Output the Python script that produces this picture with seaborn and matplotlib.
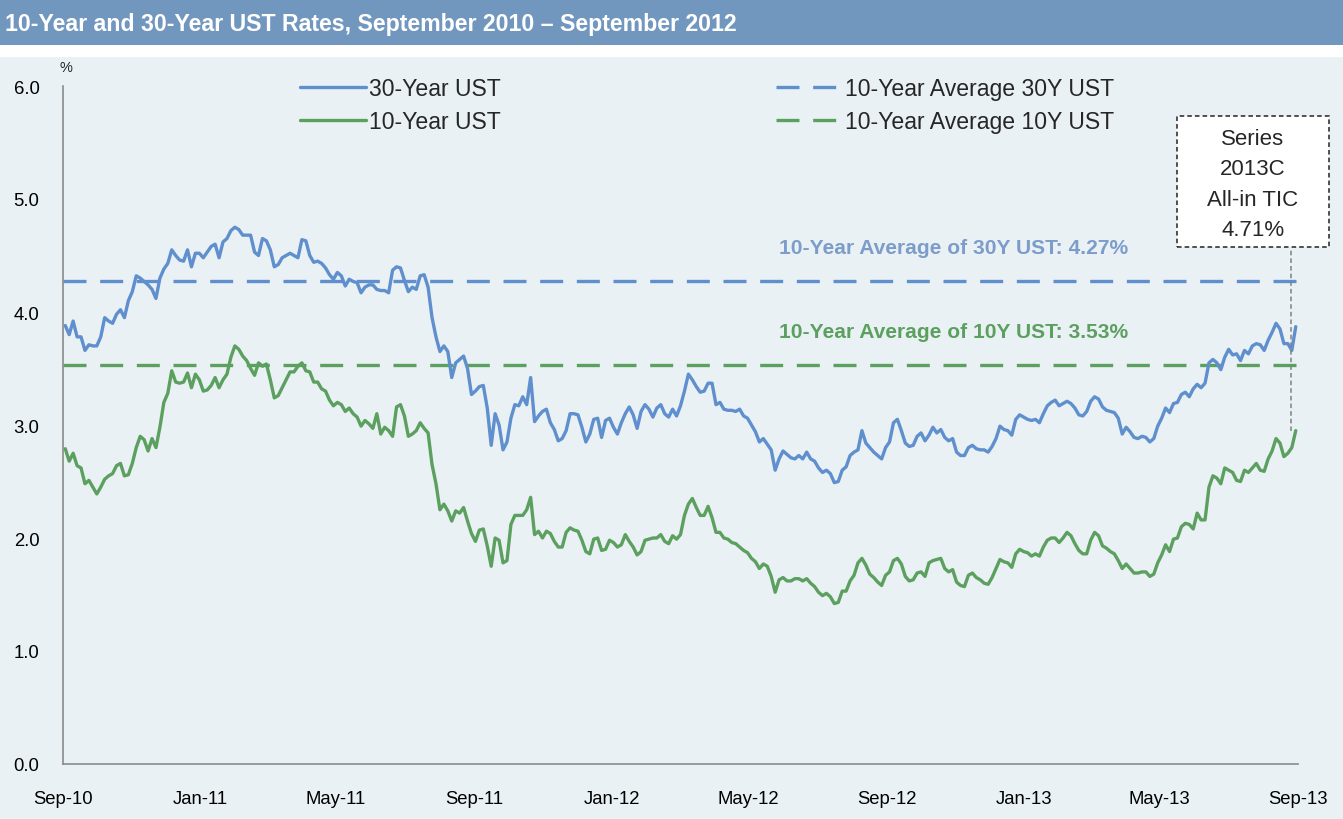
import numpy as np
import pandas as pd
import matplotlib
matplotlib.use("Agg")
import matplotlib.pyplot as plt
from matplotlib.lines import Line2D
from matplotlib.patches import Rectangle
import seaborn as sns

# ---------------- data ----------------
TITLE = "10-Year and 30-Year UST Rates, September 2010 \u2013 September 2012"
START_DATE = "2010-09-03"   # observations every 3.5 days
STEP = "84h"

UST_30Y = [3.88, 3.80, 3.92, 3.78, 3.78, 3.66, 3.71, 3.70, 3.70, 3.78,
           3.95, 3.92, 3.90, 3.98, 4.02, 3.95, 4.10, 4.18, 4.32, 4.30,
           4.27, 4.24, 4.20, 4.12, 4.30, 4.38, 4.43, 4.55, 4.50, 4.46,
           4.45, 4.55, 4.40, 4.52, 4.52, 4.48, 4.53, 4.58, 4.60, 4.48,
           4.62, 4.65, 4.72, 4.75, 4.73, 4.68, 4.68, 4.68, 4.53, 4.50,
           4.65, 4.63, 4.55, 4.40, 4.42, 4.48, 4.50, 4.52, 4.50, 4.48,
           4.64, 4.63, 4.50, 4.44, 4.45, 4.43, 4.39, 4.33, 4.29, 4.35,
           4.32, 4.23, 4.29, 4.27, 4.26, 4.17, 4.22, 4.24, 4.24, 4.20,
           4.19, 4.19, 4.17, 4.37, 4.40, 4.39, 4.28, 4.18, 4.22, 4.20,
           4.32, 4.33, 4.22, 3.95, 3.78, 3.65, 3.70, 3.65, 3.42, 3.55,
           3.58, 3.61, 3.50, 3.27, 3.30, 3.34, 3.35, 3.15, 2.82, 3.10,
           3.00, 2.78, 2.85, 3.06, 3.18, 3.17, 3.25, 3.18, 3.42, 3.03,
           3.08, 3.12, 3.14, 3.02, 2.96, 2.86, 2.88, 2.95, 3.10, 3.10,
           3.09, 2.98, 2.85, 2.92, 3.05, 3.06, 2.89, 3.04, 3.06, 2.98,
           2.92, 3.02, 3.10, 3.16, 3.09, 2.97, 3.12, 3.18, 3.14, 3.07,
           3.15, 3.18, 3.10, 3.07, 3.14, 3.08, 3.17, 3.30, 3.45, 3.40,
           3.34, 3.29, 3.30, 3.37, 3.37, 3.18, 3.20, 3.14, 3.13, 3.13,
           3.12, 3.14, 3.08, 3.06, 3.00, 2.94, 2.85, 2.88, 2.83, 2.78,
           2.60, 2.70, 2.77, 2.74, 2.71, 2.70, 2.73, 2.70, 2.76, 2.70,
           2.68, 2.62, 2.58, 2.60, 2.57, 2.49, 2.50, 2.60, 2.63, 2.73,
           2.76, 2.78, 2.95, 2.84, 2.80, 2.76, 2.73, 2.70, 2.80, 2.85,
           3.02, 3.05, 2.95, 2.84, 2.81, 2.82, 2.90, 2.93, 2.86, 2.91,
           2.98, 2.93, 2.96, 2.89, 2.86, 2.88, 2.76, 2.73, 2.73, 2.80,
           2.82, 2.79, 2.78, 2.78, 2.76, 2.81, 2.88, 2.99, 2.96, 2.95,
           2.91, 3.05, 3.09, 3.07, 3.05, 3.04, 3.05, 3.02, 3.10, 3.17,
           3.20, 3.22, 3.17, 3.19, 3.21, 3.19, 3.15, 3.09, 3.08, 3.12,
           3.21, 3.25, 3.23, 3.16, 3.13, 3.12, 3.11, 3.06, 2.92, 2.98,
           2.94, 2.89, 2.88, 2.90, 2.89, 2.85, 2.88, 2.99, 3.06, 3.15,
           3.11, 3.19, 3.20, 3.27, 3.29, 3.25, 3.32, 3.36, 3.33, 3.37,
           3.55, 3.58, 3.55, 3.49, 3.60, 3.67, 3.62, 3.63, 3.57, 3.66,
           3.63, 3.70, 3.72, 3.71, 3.66, 3.75, 3.82, 3.90, 3.85, 3.72,
           3.72, 3.66, 3.87]

UST_10Y = [2.79, 2.68, 2.75, 2.64, 2.62, 2.48, 2.51, 2.45, 2.39, 2.45,
           2.52, 2.55, 2.57, 2.64, 2.66, 2.55, 2.56, 2.66, 2.80, 2.90,
           2.87, 2.77, 2.88, 2.80, 2.98, 3.20, 3.28, 3.48, 3.38, 3.37,
           3.38, 3.46, 3.33, 3.45, 3.40, 3.30, 3.31, 3.35, 3.42, 3.33,
           3.40, 3.45, 3.60, 3.70, 3.67, 3.61, 3.57, 3.50, 3.44, 3.55,
           3.52, 3.54, 3.40, 3.24, 3.26, 3.33, 3.40, 3.47, 3.47, 3.52,
           3.55, 3.48, 3.47, 3.38, 3.38, 3.32, 3.30, 3.22, 3.17, 3.20,
           3.18, 3.12, 3.15, 3.10, 3.07, 2.99, 3.04, 3.01, 2.97, 3.10,
           2.92, 2.98, 2.95, 2.90, 3.16, 3.18, 3.08, 2.90, 2.92, 2.95,
           3.02, 2.97, 2.93, 2.65, 2.48, 2.25, 2.30, 2.24, 2.15, 2.24,
           2.22, 2.27, 2.15, 2.04, 1.97, 2.07, 2.08, 1.93, 1.75, 2.00,
           1.98, 1.78, 1.80, 2.12, 2.20, 2.20, 2.20, 2.25, 2.36, 2.03,
           2.06, 2.00, 2.06, 2.04, 1.97, 1.92, 1.92, 2.05, 2.09, 2.07,
           2.06, 1.98, 1.88, 1.86, 1.99, 2.00, 1.89, 1.90, 1.98, 1.96,
           1.92, 1.94, 2.03, 1.97, 1.92, 1.85, 1.88, 1.98, 1.99, 2.00,
           2.00, 2.03, 1.97, 1.95, 2.02, 1.99, 2.03, 2.20, 2.30, 2.35,
           2.27, 2.20, 2.20, 2.28, 2.18, 2.05, 2.05, 2.00, 1.99, 1.96,
           1.95, 1.92, 1.89, 1.87, 1.82, 1.79, 1.73, 1.77, 1.75, 1.66,
           1.52, 1.63, 1.65, 1.62, 1.62, 1.64, 1.64, 1.62, 1.64, 1.60,
           1.57, 1.52, 1.49, 1.51, 1.48, 1.42, 1.43, 1.53, 1.53, 1.62,
           1.67, 1.78, 1.82, 1.76, 1.68, 1.65, 1.61, 1.58, 1.67, 1.70,
           1.80, 1.82, 1.77, 1.66, 1.62, 1.63, 1.69, 1.70, 1.66, 1.78,
           1.80, 1.81, 1.82, 1.73, 1.70, 1.72, 1.61, 1.58, 1.57, 1.67,
           1.69, 1.65, 1.63, 1.60, 1.59, 1.65, 1.73, 1.81, 1.79, 1.78,
           1.74, 1.86, 1.90, 1.88, 1.87, 1.84, 1.86, 1.84, 1.92, 1.98,
           2.00, 2.00, 1.96, 2.00, 2.05, 2.02, 1.95, 1.89, 1.86, 1.86,
           1.98, 2.05, 2.02, 1.93, 1.91, 1.88, 1.86, 1.80, 1.73, 1.77,
           1.73, 1.69, 1.69, 1.70, 1.70, 1.66, 1.68, 1.78, 1.85, 1.94,
           1.88, 1.99, 2.00, 2.10, 2.13, 2.12, 2.08, 2.22, 2.16, 2.16,
           2.45, 2.55, 2.53, 2.48, 2.62, 2.60, 2.58, 2.51, 2.50, 2.60,
           2.58, 2.62, 2.66, 2.60, 2.59, 2.70, 2.77, 2.88, 2.84, 2.72,
           2.75, 2.80, 2.95]

AVG_30Y = 4.27
AVG_10Y = 3.53
TIC_DATE = "2013-08-26"
TIC_LINE_VALUE = 2.95
TIC_TEXT = "Series\n2013C\nAll-in TIC\n4.71%"

SERIES_NAMES = ["30-Year UST", "10-Year UST"]
AVG_NAMES = ["10-Year Average 30Y UST", "10-Year Average 10Y UST"]
AVG_LABELS = ["10-Year Average of 30Y UST: 4.27%", "10-Year Average of 10Y UST: 3.53%"]

X_TICK_DATES = ["2010-09-01", "2011-01-01", "2011-05-01", "2011-09-01", "2012-01-01",
                "2012-05-01", "2012-09-01", "2013-01-01", "2013-05-01", "2013-09-01"]
X_TICK_LABELS = ["Sep-10", "Jan-11", "May-11", "Sep-11", "Jan-12",
                 "May-12", "Sep-12", "Jan-13", "May-13", "Sep-13"]
Y_TICKS = [0, 1, 2, 3, 4, 5, 6]
Y_TICK_LABELS = ["0.0", "1.0", "2.0", "3.0", "4.0", "5.0", "6.0"]

# ---------------- style ----------------
BLUE = "#5F8FCD"
GREEN = "#5CA05F"
BLUE_TEXT = "#7C9DC9"
BAND = "#7297BF"
PANEL = "#EAF1F5"
AXIS_GRAY = "#8A8A8A"

sns.set_style("white")
plt.rcParams["font.family"] = ["Liberation Sans", "DejaVu Sans"]

W, H = 1343, 820
fig = plt.figure(figsize=(W / 100, H / 100), dpi=100)
fig.patch.set_facecolor("white")

def fx(px):
    return px / W

def fy(py):
    return 1 - py / H

# panel background and title band (behind the axes)
fig.patches.append(Rectangle((0, 0), 1, fy(58), transform=fig.transFigure,
                             facecolor=PANEL, edgecolor="none", zorder=-10))
fig.patches.append(Rectangle((0, fy(46)), 1, fy(1) - fy(46), transform=fig.transFigure,
                             facecolor=BAND, edgecolor="none", zorder=-10))
fig.text(fx(5), fy(24), TITLE, color="white", fontsize=16.7, fontweight="bold",
         ha="left", va="center")

ax_left, ax_right, ax_top, ax_bottom = 63, 1298, 87, 765
ax = fig.add_axes([fx(ax_left), fy(ax_bottom), fx(ax_right) - fx(ax_left),
                   fy(ax_top) - fy(ax_bottom)])
ax.set_facecolor(PANEL)
ax.patch.set_alpha(0)

dates = pd.date_range(START_DATE, periods=len(UST_30Y), freq=STEP)
df = pd.DataFrame({
    "Date": np.concatenate([dates, dates]),
    "Rate": UST_30Y + UST_10Y,
    "Series": [SERIES_NAMES[0]] * len(UST_30Y) + [SERIES_NAMES[1]] * len(UST_10Y),
})
sns.lineplot(data=df, x="Date", y="Rate", hue="Series",
             palette={SERIES_NAMES[0]: BLUE, SERIES_NAMES[1]: GREEN},
             linewidth=2.4, legend=False, ax=ax, zorder=3)

LW_AVG = 2.4
DASH = (6.9, 4.1)
ax.axhline(AVG_30Y, color=BLUE, lw=LW_AVG, dashes=DASH, zorder=2)
ax.axhline(AVG_10Y, color=GREEN, lw=LW_AVG, dashes=DASH, zorder=2)

ax.set_xlim(pd.Timestamp(X_TICK_DATES[0]), pd.Timestamp(X_TICK_DATES[-1]))
ax.set_ylim(Y_TICKS[0], Y_TICKS[-1])
ax.set_xticks([pd.Timestamp(d) for d in X_TICK_DATES])
ax.set_xticklabels(X_TICK_LABELS)
ax.set_yticks(Y_TICKS)
ax.set_yticklabels(Y_TICK_LABELS)
ax.set_xlabel("")
ax.set_ylabel("")
for s in ["top", "right"]:
    ax.spines[s].set_visible(False)
for s in ["left", "bottom"]:
    ax.spines[s].set_color(AXIS_GRAY)
    ax.spines[s].set_linewidth(1.2)
ax.tick_params(axis="both", direction="out", length=5, width=1.0,
               color=AXIS_GRAY, labelsize=13.3, labelcolor="black")
ax.tick_params(axis="x", pad=14)
ax.tick_params(axis="y", pad=12)
ax.grid(False)

fig.text(fx(66), fy(68), "%", fontsize=10.5, ha="center", va="center")

# legend
handles = [Line2D([], [], color=BLUE, lw=2.4),
           Line2D([], [], color=GREEN, lw=2.4),
           Line2D([], [], color=BLUE, lw=LW_AVG, dashes=DASH),
           Line2D([], [], color=GREEN, lw=LW_AVG, dashes=DASH)]
fig.legend(handles, SERIES_NAMES + AVG_NAMES, ncol=2, loc="upper left",
           bbox_to_anchor=(fx(300), fy(78)), bbox_transform=fig.transFigure,
           frameon=False, fontsize=16.6, handlelength=2.85, handletextpad=0.14,
           columnspacing=11.95, labelspacing=0.45, borderpad=0, borderaxespad=0)

# average labels
fig.text(fx(779), fy(248), AVG_LABELS[0], color=BLUE_TEXT, fontsize=15.1,
         fontweight="bold", ha="left", va="center")
fig.text(fx(779), fy(333), AVG_LABELS[1], color=GREEN, fontsize=15.1,
         fontweight="bold", ha="left", va="center")

# TIC call-out box and connector
fig.patches.append(Rectangle((fx(1177), fy(248)), fx(1329) - fx(1177), fy(117) - fy(248),
                             transform=fig.transFigure, facecolor="white",
                             edgecolor="#222222", lw=1.1, ls=(0, (3, 2)), zorder=5))
fig.text(fx(1253), fy(185), TIC_TEXT, fontsize=16, ha="center", va="center",
         linespacing=1.6, zorder=6)
tic_x = pd.Timestamp(TIC_DATE)
ax.plot([tic_x, tic_x], [TIC_LINE_VALUE, 4.57], color="#808080", lw=1.1,
        ls=(0, (3, 2)), zorder=4, clip_on=False)

fig.savefig("out.png", dpi=100, facecolor=fig.get_facecolor())
